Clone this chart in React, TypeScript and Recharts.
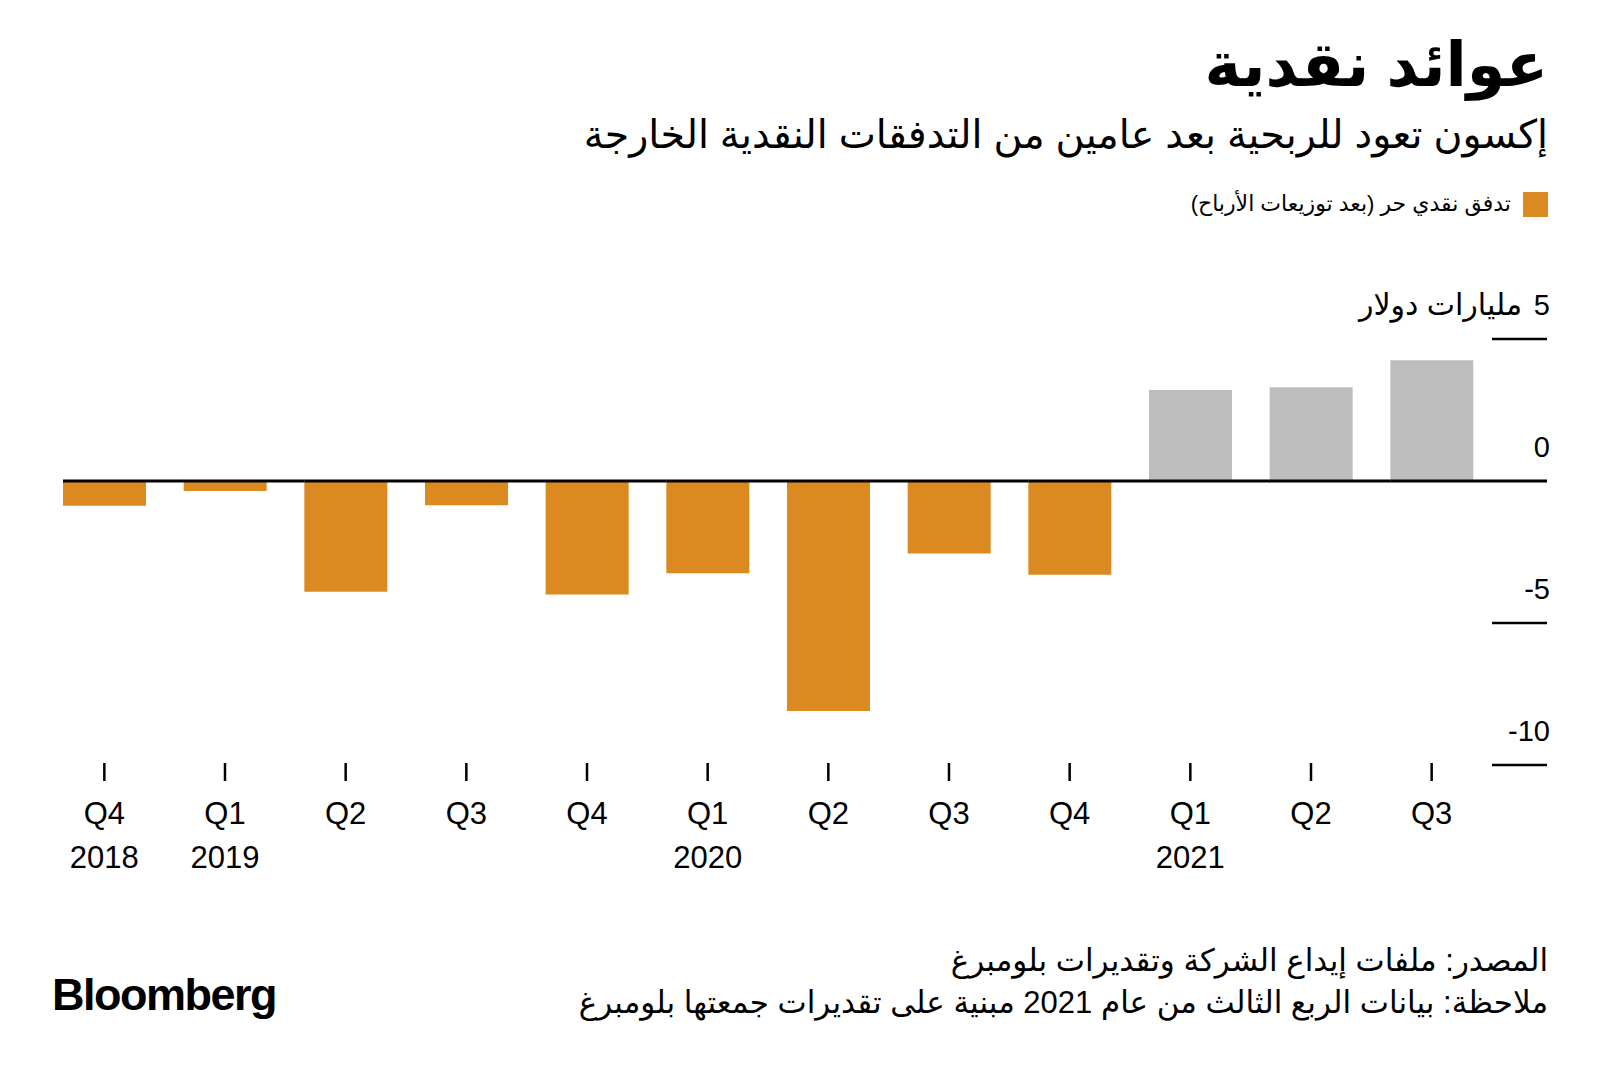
import { BarChart, Bar, XAxis, YAxis, Rectangle } from 'recharts';

const quarters = ['Q4', 'Q1', 'Q2', 'Q3', 'Q4', 'Q1', 'Q2', 'Q3', 'Q4', 'Q1', 'Q2', 'Q3'];
const years = ['2018', '2019', '', '', '', '2020', '', '', '', '2021', '', ''];
// free cash flow after dividends, billions of dollars
const freeCashFlow = [-0.87, -0.35, -3.9, -0.85, -4.0, -3.25, -8.1, -2.55, -3.3, 3.2, 3.3, 4.25];
const yTicks = [-10, -5, 0, 5];
const unitLabel = 'مليارات دولار';

const title = 'عوائد نقدية';
const subtitle = 'إكسون تعود للربحية بعد عامين من التدفقات النقدية الخارجة';
const legendLabel = 'تدفق نقدي حر (بعد توزيعات الأرباح)';
const sourceNote = 'المصدر: ملفات إيداع الشركة وتقديرات بلومبرغ';
const footNote = 'ملاحظة: بيانات الربع الثالث من عام 2021 مبنية على تقديرات جمعتها بلومبرغ';

const ORANGE = '#DB8A22';
const GRAY = '#BEBEBE';
const BAR_GAP = 19;
const FONT = "'Liberation Sans', 'DejaVu Sans', sans-serif";

const data = quarters.map((q, i) => ({ key: `${q}-${i}`, value: freeCashFlow[i] }));

// bar plus the piece of zero line that runs under its band
const BarWithBase = (props: any) => {
  const { x, y, width, height, index, payload } = props;
  const top = Math.min(y, y + height);
  const bottom = Math.max(y, y + height);
  const zeroY = payload.value >= 0 ? bottom : top;
  const isLast = index === data.length - 1;
  const fill = payload.value >= 0 ? GRAY : ORANGE;
  return (
    <g>
      <Rectangle x={x} y={top} width={width} height={bottom - top} fill={fill} />
      <line x1={x} x2={x + width + (isLast ? BAR_GAP : 2 * BAR_GAP)} y1={zeroY} y2={zeroY} stroke="#000" strokeWidth={3} />
    </g>
  );
};

const XTick = (props: any) => {
  const { x, y, index } = props;
  return (
    <g>
      <line x1={x} x2={x} y1={y - 2} y2={y + 16} stroke="#000" strokeWidth={2.5} />
      <text x={x} y={y + 59} textAnchor="middle" fontSize={31} fill="#000" fontFamily={FONT}>
        {quarters[index]}
      </text>
      <text x={x} y={y + 103} textAnchor="middle" fontSize={31} fill="#000" fontFamily={FONT}>
        {years[index]}
      </text>
    </g>
  );
};

const YTick = (props: any) => {
  const { x, y, payload } = props;
  const v = payload.value;
  return (
    <g>
      <line x1={x} x2={x + 55} y1={y} y2={y} stroke="#000" strokeWidth={v === 0 ? 3 : 2.5} />
      <text x={x + 58} y={y - 24} textAnchor="end" fontSize={29} fill="#000" fontFamily={FONT}>
        {v}
      </text>
      {v === 5 && (
        <text x={x + 30} y={y - 24} textAnchor="end" fontSize={30} fill="#000" fontFamily={FONT}>
          {unitLabel}
        </text>
      )}
    </g>
  );
};

export default function App() {
  return (
    <div style={{ position: 'absolute', left: 0, top: 0, width: 1600, height: 1074, background: '#fff', fontFamily: FONT, color: '#000' }}>
      <div dir="rtl" style={{ position: 'absolute', right: 52, top: 23, fontSize: 62, fontWeight: 700, lineHeight: '84px' }}>
        {title}
      </div>
      <div dir="rtl" style={{ position: 'absolute', right: 52, top: 108, fontSize: 39.5, lineHeight: '52px' }}>
        {subtitle}
      </div>
      <div dir="rtl" style={{ position: 'absolute', right: 52, top: 190, display: 'flex', alignItems: 'center', gap: 12 }}>
        <div style={{ width: 25, height: 25, background: ORANGE }} />
        <div style={{ fontSize: 22, lineHeight: '28px' }}>{legendLabel}</div>
      </div>

      <div style={{ position: 'absolute', left: 0, top: 0 }}>
        <BarChart width={1600} height={1074} data={data} barCategoryGap={BAR_GAP}
          margin={{ top: 339, right: 53, left: 44, bottom: 189 }}>
          <XAxis dataKey="key" height={120} interval={0} axisLine={false} tickLine={false}
            tickSize={0} tickMargin={0} tick={<XTick />} />
          <YAxis orientation="right" width={55} type="number" domain={[-10, 5]} ticks={yTicks}
            interval={0} axisLine={false} tickLine={false} tickSize={0} tickMargin={0} tick={<YTick />} />
          <Bar dataKey="value" isAnimationActive={false} shape={<BarWithBase />} />
        </BarChart>
      </div>

      <div dir="rtl" style={{ position: 'absolute', right: 52, top: 940, fontSize: 31, lineHeight: '42px' }}>
        <div>{sourceNote}</div>
        <div>{footNote}</div>
      </div>
      <div style={{ position: 'absolute', left: 52, top: 968, fontSize: 45, fontWeight: 700, letterSpacing: -1.5, lineHeight: '54px' }}>
        Bloomberg
      </div>
    </div>
  );
}
